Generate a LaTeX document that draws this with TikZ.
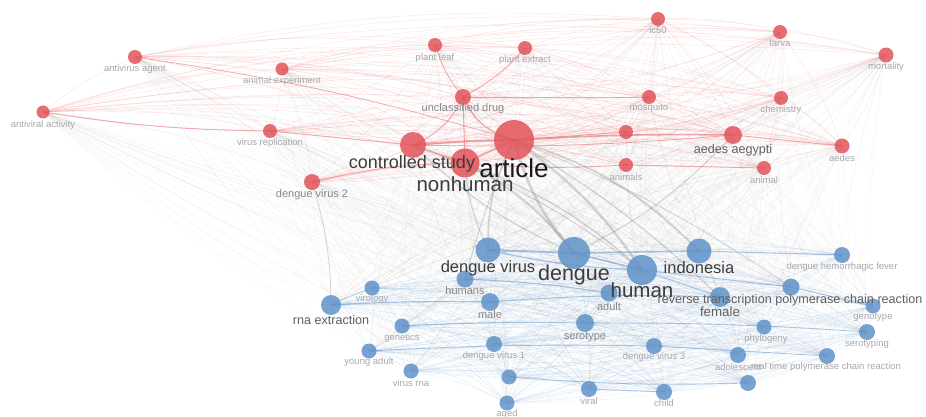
\documentclass[tikz,border=0pt]{standalone}
\usepackage{fontspec}
\setmainfont{Liberation Sans}
\pgfdeclarelayer{edges}
\pgfsetlayers{edges,main}
\definecolor{redn}{RGB}{226,84,90}
\definecolor{bluen}{RGB}{96,146,200}
\definecolor{rede}{RGB}{232,100,106}
\definecolor{bluee}{RGB}{100,152,206}
\definecolor{graye}{RGB}{140,140,140}
\definecolor{lsmall}{RGB}{168,168,168}
\definecolor{lmid}{RGB}{135,135,135}
\definecolor{lmed}{RGB}{95,95,95}
\definecolor{lbig}{RGB}{60,60,60}
\definecolor{ltop}{RGB}{25,25,25}
\tikzset{
  kw/.style={circle, inner sep=0pt, draw=none},
  rn/.style={kw, fill=redn, fill opacity=0.85},
  bn/.style={kw, fill=bluen, fill opacity=0.85},
  lb/.style={inner sep=0pt, anchor=center},
  lbs/.style={lb, text=lsmall, font=\fontsize{9.5}{10}\selectfont},
  lbm/.style={lb, text=lmid, font=\fontsize{11}{12}\selectfont},
  lbM/.style={lb, text=lmed, font=\fontsize{12.6}{13}\selectfont},
  lbL/.style={lb, text=lbig, font=\fontsize{16.5}{17}\selectfont},
  lbX/.style={lb, text=lbig, font=\fontsize{20.5}{21}\selectfont},
  redge/.style={draw=rede, opacity=0.2, line width=0.35pt},
  bedge/.style={draw=bluee, opacity=0.17, line width=0.35pt},
  gedge/.style={draw=graye, opacity=0.09, line width=0.35pt},
  rthick/.style={draw=rede, opacity=0.55},
  bthick/.style={draw=bluee, opacity=0.55},
  gthick/.style={draw=graye, opacity=0.35},
}
\begin{document}
\begin{tikzpicture}[x=1pt,y=-1pt]
\useasboundingbox (0,0) rectangle (926,417);
% red cluster
\node[rn, minimum size=13pt] (antact) at (43,112) {};
\node[rn, minimum size=14pt] (antag) at (135,57) {};
\node[rn, minimum size=13pt] (animexp) at (282,69) {};
\node[rn, minimum size=14pt] (pleaf) at (435,45) {};
\node[rn, minimum size=14pt] (pext) at (525,48) {};
\node[rn, minimum size=14pt] (ic) at (658,19) {};
\node[rn, minimum size=14pt] (larva) at (780,32) {};
\node[rn, minimum size=15pt] (mort) at (886,55) {};
\node[rn, minimum size=16pt] (uncl) at (463,97) {};
\node[rn, minimum size=14pt] (mosq) at (649,97) {};
\node[rn, minimum size=14pt] (chem) at (781,98) {};
\node[rn, minimum size=14pt] (virrep) at (270,131) {};
\node[rn, minimum size=26pt] (ctrl) at (413,145) {};
\node[rn, minimum size=40pt] (article) at (514,140) {};
\node[rn, minimum size=29pt] (nonhum) at (465,163) {};
\node[rn, minimum size=16pt] (dvtwo) at (312,182) {};
\node[rn, minimum size=14pt] (rx) at (626,132) {};
\node[rn, minimum size=14pt] (animals) at (626,165) {};
\node[rn, minimum size=18pt] (aedaeg) at (733,135) {};
\node[rn, minimum size=14pt] (animal) at (764,168) {};
\node[rn, minimum size=15pt] (aedes) at (842,146) {};
% blue cluster
\node[bn, minimum size=25pt] (dv) at (488,250) {};
\node[bn, minimum size=32pt] (dengue) at (574,253) {};
\node[bn, minimum size=25pt] (indo) at (699,251) {};
\node[bn, minimum size=30pt] (human) at (642,270) {};
\node[bn, minimum size=17pt] (humans) at (465,279) {};
\node[bn, minimum size=15pt] (virol) at (372,288) {};
\node[bn, minimum size=20pt] (rnaext) at (331,305) {};
\node[bn, minimum size=18pt] (male) at (490,302) {};
\node[bn, minimum size=17pt] (adult) at (609,293) {};
\node[bn, minimum size=20pt] (female) at (720,297) {};
\node[bn, minimum size=17pt] (rtpcr) at (791,287) {};
\node[bn, minimum size=16pt] (dhf) at (842,255) {};
\node[bn, minimum size=15pt] (genotype) at (873,306) {};
\node[bn, minimum size=16pt] (serotyping) at (867,332) {};
\node[bn, minimum size=15pt] (phylo) at (764,327) {};
\node[bn, minimum size=15pt] (genetics) at (402,326) {};
\node[bn, minimum size=18pt] (serotype) at (585,323) {};
\node[bn, minimum size=16pt] (dvone) at (494,344) {};
\node[bn, minimum size=15pt] (youngad) at (369,351) {};
\node[bn, minimum size=16pt] (dvthree) at (654,346) {};
\node[bn, minimum size=16pt] (adol) at (738,355) {};
\node[bn, minimum size=16pt] (rtpcrtwo) at (827,356) {};
\node[bn, minimum size=15pt] (virrna) at (411,371) {};
\node[bn, minimum size=15pt] (bxa) at (509,377) {};
\node[bn, minimum size=15pt] (aged) at (507,403) {};
\node[bn, minimum size=16pt] (viral) at (589,389) {};
\node[bn, minimum size=16pt] (child) at (664,392) {};
\node[bn, minimum size=16pt] (bxb) at (748,383) {};
% edges
\def\redlist{antact,antag,animexp,pleaf,pext,ic,larva,mort,uncl,mosq,chem,virrep,ctrl,article,nonhum,dvtwo,rx,animals,aedaeg,animal,aedes}
\def\bluelist{dv,dengue,indo,human,humans,virol,rnaext,male,adult,female,rtpcr,dhf,genotype,serotyping,phylo,genetics,serotype,dvone,youngad,dvthree,adol,rtpcrtwo,virrna,bxa,aged,viral,child,bxb}
\begin{pgfonlayer}{edges}
\foreach \a [count=\i] in \redlist {
  \foreach \b [count=\j] in \redlist {
    \ifnum\j>\i \draw[redge] (\a.center) to[bend left=8] (\b.center); \fi
  }
}
\foreach \a [count=\i] in \bluelist {
  \foreach \b [count=\j] in \bluelist {
    \ifnum\j>\i \draw[bedge] (\a.center) to[bend left=8] (\b.center); \fi
  }
}
\foreach \a in \redlist {
  \foreach \b in \bluelist {
    \draw[gedge] (\a.center) to[bend right=6] (\b.center);
  }
}
% strong red links
\draw[rthick, line width=2.2pt] (ctrl.center) to[bend left=2] (article.center);
\draw[rthick, line width=1.6pt] (article.center) to[bend left=2] (aedaeg.center);
\draw[rthick, line width=1.8pt] (article.center) -- (nonhum.center);
\draw[rthick, line width=1.4pt] (ctrl.center) -- (nonhum.center);
\draw[rthick, line width=1.2pt] (uncl.center) to[bend right=25] (article.center);
\draw[rthick, line width=1pt] (uncl.center) to[bend left=20] (ctrl.center);
\draw[rthick, line width=1pt] (uncl.center) -- (nonhum.center);
\draw[rthick, line width=1pt] (antact.center) to[bend right=4] (virrep.center);
\draw[rthick, line width=1pt] (virrep.center) -- (ctrl.center);
\draw[rthick, line width=1pt] (dvtwo.center) to[bend left=6] (nonhum.center);
\draw[rthick, line width=1pt] (article.center) -- (rx.center);
\draw[rthick, line width=1pt] (aedaeg.center) -- (aedes.center);
\draw[rthick, line width=1pt] (animals.center) -- (animal.center);
\draw[rthick, line width=0.9pt] (nonhum.center) to[bend right=4] (animals.center);
\draw[rthick, line width=0.8pt] (pleaf.center) to[bend right=10] (uncl.center);
\draw[rthick, line width=0.8pt] (pext.center) to[bend left=10] (uncl.center);
\draw[rthick, line width=0.8pt] (antag.center) to[bend left=4] (article.center);
\draw[rthick, line width=0.8pt] (mosq.center) -- (uncl.center);
\draw[rthick, line width=0.8pt] (ctrl.center) to[bend right=3] (aedaeg.center);
% strong blue links
\draw[bthick, line width=2pt] (dv.center) -- (dengue.center);
\draw[bthick, line width=1.6pt] (dengue.center) -- (indo.center);
\draw[bthick, line width=1.4pt] (dengue.center) -- (human.center);
\draw[bthick, line width=1.2pt] (dv.center) to[bend right=5] (human.center);
\draw[bthick, line width=1.2pt] (rnaext.center) to[bend left=2] (male.center);
\draw[bthick, line width=1pt] (human.center) -- (rtpcr.center);
\draw[bthick, line width=1pt] (humans.center) to[bend left=3] (adult.center);
\draw[bthick, line width=1pt] (male.center) to[bend left=3] (female.center);
\draw[bthick, line width=1pt] (indo.center) -- (dhf.center);
\draw[bthick, line width=1pt] (rtpcr.center) -- (genotype.center);
\draw[bthick, line width=0.9pt] (genetics.center) to[bend left=2] (serotype.center);
\draw[bthick, line width=0.9pt] (youngad.center) to[bend left=2] (dvthree.center);
\draw[bthick, line width=0.9pt] (dvthree.center) -- (rtpcrtwo.center);
\draw[bthick, line width=0.9pt] (serotype.center) to[bend left=2] (serotyping.center);
\draw[bthick, line width=0.9pt] (bxa.center) to[bend right=3] (bxb.center);
\draw[bthick, line width=0.9pt] (viral.center) -- (child.center);
\draw[bthick, line width=0.8pt] (rnaext.center) to[bend left=3] (virol.center);
\draw[bthick, line width=0.8pt] (human.center) -- (female.center);
% strong inter-cluster links
\draw[gthick, line width=3pt] (article.center) to[bend right=12] (dengue.center);
\draw[gthick, line width=2.5pt] (article.center) to[bend left=10] (human.center);
\draw[gthick, line width=2pt] (article.center) to[bend left=14] (indo.center);
\draw[gthick, line width=2pt] (nonhum.center) to[bend left=12] (dengue.center);
\draw[gthick, line width=1.6pt] (article.center) to[bend right=14] (dv.center);
\draw[gthick, line width=1.4pt] (nonhum.center) to[bend left=10] (human.center);
\draw[gthick, line width=1.2pt] (ctrl.center) to[bend right=10] (dengue.center);
\draw[gthick, line width=1.2pt] (article.center) to[bend left=6] (female.center);
\draw[gthick, line width=1pt] (nonhum.center) to[bend right=10] (dv.center);
\draw[gthick, line width=1pt] (ctrl.center) to[bend left=8] (human.center);
\draw[gthick, line width=1pt] (aedaeg.center) to[bend left=10] (dengue.center);
\draw[gthick, line width=1pt] (article.center) to[bend right=4] (humans.center);
\draw[gthick, line width=0.9pt] (article.center) to[bend left=6] (rtpcr.center);
\draw[gthick, line width=0.9pt] (dvtwo.center) to[bend left=8] (rnaext.center);
\end{pgfonlayer}
% labels: red cluster
\node[lbs] (antact-l) at (43,125) {antiviral activity};
\node[lbs] (antag-l) at (135,69) {antivirus agent};
\node[lbs] (animexp-l) at (282,81) {animal experiment};
\node[lbs] (pleaf-l) at (435,58) {plant leaf};
\node[lbs] (pext-l) at (525,60) {plant extract};
\node[lbs] (ic-l) at (658,30) {ic50};
\node[lbs] (larva-l) at (780,43) {larva};
\node[lbs] (mort-l) at (886,67) {mortality};
\node[lbm] (uncl-l) at (463,109) {unclassified drug};
\node[lbs] (mosq-l) at (649,108) {mosquito};
\node[lbs] (chem-l) at (781,110) {chemistry};
\node[lbs] (virrep-l) at (270,143) {virus replication};
\node[lb, text=lbig, font=\fontsize{18}{19}\selectfont] (ctrl-l) at (412,164) {controlled study};
\node[lb, text=ltop, font=\fontsize{26}{27}\selectfont] (article-l) at (514,168) {article};
\node[lbX] (nonhum-l) at (465,184) {nonhuman};
\node[lbm] (dvtwo-l) at (312,195) {dengue virus 2};
\node[lbs] (animals-l) at (626,177) {animals};
\node[lbM] (aedaeg-l) at (733,150) {aedes aegypti};
\node[lbs] (animal-l) at (764,180) {animal};
\node[lbs] (aedes-l) at (842,158) {aedes};
% labels: blue cluster
\node[lbL] (dv-l) at (488,268) {dengue virus};
\node[lb, text=lbig, font=\fontsize{21.5}{22}\selectfont] (dengue-l) at (574,275) {dengue};
\node[lbL] (indo-l) at (699,268) {indonesia};
\node[lbX] (human-l) at (642,290) {human};
\node[lbm] (humans-l) at (465,291) {humans};
\node[lbs] (virol-l) at (372,299) {virology};
\node[lbM] (rnaext-l) at (331,320) {rna extraction};
\node[lbm] (male-l) at (490,315) {male};
\node[lbm] (adult-l) at (609,307) {adult};
\node[lbM, font=\fontsize{13.3}{14}\selectfont] (female-l) at (720,312) {female};
\node[lbM] (rtpcr-l) at (790,300) {reverse transcription polymerase chain reaction};
\node[lbs] (dhf-l) at (842,267) {dengue hemorrhagic fever};
\node[lbs] (genotype-l) at (873,317) {genotype};
\node[lbs] (serotyping-l) at (867,344) {serotyping};
\node[lbs] (phylo-l) at (766,339) {phylogeny};
\node[lbs] (genetics-l) at (402,338) {genetics};
\node[lbm] (serotype-l) at (585,337) {serotype};
\node[lbs] (dvone-l) at (494,356) {dengue virus 1};
\node[lbs] (youngad-l) at (369,362) {young adult};
\node[lbs] (dvthree-l) at (654,357) {dengue virus 3};
\node[lbs] (adol-l) at (738,367) {adolescent};
\node[lbs] (rtpcrtwo-l) at (826,367) {real time polymerase chain reaction};
\node[lbs] (virrna-l) at (411,383) {virus rna};
\node[lbs] (aged-l) at (507,414) {aged};
\node[lbs] (viral-l) at (589,401) {viral};
\node[lbs] (child-l) at (664,403) {child};
\end{tikzpicture}
\end{document}
